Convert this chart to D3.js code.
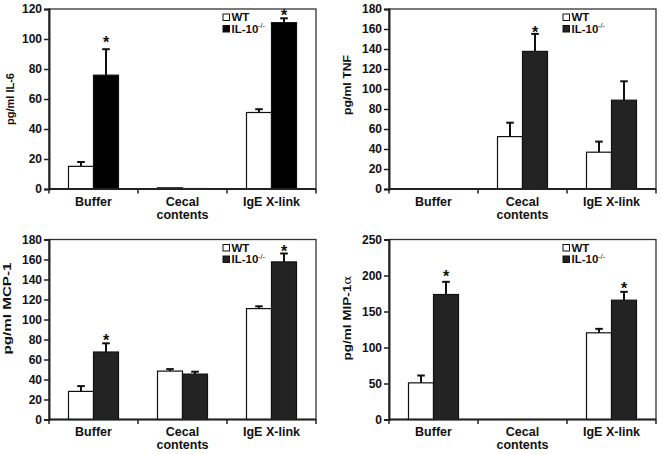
<!DOCTYPE html>
<html><head><meta charset="utf-8">
<script src="https://cdn.jsdelivr.net/npm/d3@7"></script>
<style>
body{margin:0;background:#fff;}
svg text{font-family:"Liberation Sans",Arial,sans-serif;font-weight:bold;fill:#111;}
</style></head>
<body><svg id="c" width="662" height="454"></svg>
<script>
const categories = ["Buffer", "Cecal contents", "IgE X-link"];
const seriesNames = ["WT", "IL-10"];

// Panel 1: IL-6
const il6WT = [15.1, 0.8, 51.0];
const il6WTErr = [18.0, null, 53.2];
const il6KO = [75.9, 0.3, 110.9];
const il6KOErr = [93.2, null, 113.8];
const il6Stars = [100.5, null, 118.2];
const il6Ticks = [0, 20, 40, 60, 80, 100, 120];

// Panel 2: TNF
const tnfWT = [0, 52.4, 36.8];
const tnfWTErr = [null, 66.3, 47.4];
const tnfKO = [0, 137.6, 88.8];
const tnfKOErr = [null, 155.1, 107.7];
const tnfStars = [null, 160.8, null];
const tnfTicks = [0, 20, 40, 60, 80, 100, 120, 140, 160, 180];

// Panel 3: MCP-1
const mcpWT = [28.1, 48.4, 110.9];
const mcpWTErr = [33.4, 50.4, 113.2];
const mcpKO = [67.5, 45.4, 157.6];
const mcpKOErr = [76.2, 47.8, 166.0];
const mcpStars = [83.2, null, 172.0];
const mcpTicks = [0, 20, 40, 60, 80, 100, 120, 140, 160, 180];

// Panel 4: MIP-1alpha
const mipWT = [50.9, 0, 120.4];
const mipWTErr = [61.1, null, 125.9];
const mipKO = [173.6, 0, 165.7];
const mipKOErr = [191.2, null, 177.3];
const mipStars = [203.7, null, 187.5];
const mipTicks = [0, 50, 100, 150, 200, 250];

const panels = [
  {label:"pg/ml IL-6", alpha:false, wt:il6WT, wtErr:il6WTErr, ko:il6KO, koErr:il6KOErr, stars:il6Stars, ticks:il6Ticks, col:0, row:0, koFill:"#000", lblDx:-35, lblDy:0, lblLen:52},
  {label:"pg/ml TNF", alpha:false, wt:tnfWT, wtErr:tnfWTErr, ko:tnfKO, koErr:tnfKOErr, stars:tnfStars, ticks:tnfTicks, col:1, row:0, koFill:"#232323", lblDx:-38, lblDy:-14, lblLen:60},
  {label:"pg/ml MCP-1", alpha:false, wt:mcpWT, wtErr:mcpWTErr, ko:mcpKO, koErr:mcpKOErr, stars:mcpStars, ticks:mcpTicks, col:0, row:1, koFill:"#232323", lblDx:-38.5, lblDy:-21, lblLen:92},
  {label:"pg/ml MIP-1", alpha:true, wt:mipWT, wtErr:mipWTErr, ko:mipKO, koErr:mipKOErr, stars:mipStars, ticks:mipTicks, col:1, row:1, koFill:"#232323", lblDx:-38, lblDy:-11.5, lblLen:85}
];

const svg = d3.select("#c");
const colX = [49, 389], rowY = [9, 239.5];
const W = 267, H = 180;

panels.forEach(p => {
  const g = svg.append("g").attr("transform", `translate(${colX[p.col]},${rowY[p.row]})`);
  const y = d3.scaleLinear().domain([0, d3.max(p.ticks)]).range([H, 0]);
  const x0 = d3.scaleBand().domain(categories).range([0, W]).padding(0);
  const x1 = d3.scaleBand().domain(seriesNames).range([0, x0.bandwidth()]).paddingInner(0).paddingOuter(0.78);

  // frame
  g.append("rect").attr("x", 0).attr("y", 0).attr("width", W).attr("height", H)
    .attr("fill", "none").attr("stroke", "#333").attr("stroke-width", 1.3);

  // bars
  categories.forEach((c, i) => {
    const vals = [{s:"WT", v:p.wt[i], e:p.wtErr[i], fill:"#fff"}, {s:"IL-10", v:p.ko[i], e:p.koErr[i], fill:p.koFill}];
    vals.forEach(d => {
      const bx = x0(c) + x1(d.s);
      const bw = x1.bandwidth();
      if (d.v > 0) {
        g.append("rect").attr("x", bx).attr("y", y(d.v)).attr("width", bw).attr("height", H - y(d.v))
          .attr("fill", d.fill).attr("stroke", "#111").attr("stroke-width", 1.2);
      }
      if (d.e != null) {
        const cx = bx + bw / 2;
        g.append("line").attr("x1", cx).attr("x2", cx).attr("y1", y(d.v)).attr("y2", y(d.e))
          .attr("stroke", "#111").attr("stroke-width", 2);
        g.append("line").attr("x1", cx - 3.8).attr("x2", cx + 3.8).attr("y1", y(d.e)).attr("y2", y(d.e))
          .attr("stroke", "#111").attr("stroke-width", 2);
      }
    });
    if (p.stars[i] != null) {
      const cx = x0(c) + x1("IL-10") + x1.bandwidth() / 2;
      g.append("text").attr("x", cx).attr("y", y(p.stars[i]) + 9.4).attr("text-anchor", "middle")
        .style("font-size", "16px").text("*");
    }
  });

  // y axis
  const ya = g.append("g").call(d3.axisLeft(y).tickValues(p.ticks).tickSize(5).tickPadding(2).tickFormat(d3.format("d")));
  ya.select(".domain").attr("stroke", "#222").attr("stroke-width", 2);
  ya.selectAll(".tick line").attr("stroke", "#222").attr("stroke-width", 1.5);
  ya.selectAll(".tick text").style("font-size", "12px").style("font-family", "'Liberation Sans',Arial,sans-serif").style("font-weight", "bold").attr("fill", "#111");

  // x axis
  const xa = g.append("g").attr("transform", `translate(0,${H})`);
  xa.append("line").attr("x1", 0).attr("x2", W).attr("stroke", "#222").attr("stroke-width", 2);
  const edges = categories.map(c => x0(c)).concat([W]);
  xa.selectAll("line.tk").data(edges).enter().append("line").attr("class", "tk")
    .attr("x1", d => d).attr("x2", d => d).attr("y1", 0).attr("y2", 4.5)
    .attr("stroke", "#222").attr("stroke-width", 1.5);
  categories.forEach(c => {
    const words = c === "Cecal contents" ? ["Cecal", "contents"] : [c];
    words.forEach((w, k) => {
      xa.append("text").attr("text-anchor", "middle").style("font-size", "12.5px")
        .attr("x", x0(c) + x0.bandwidth() / 2).attr("y", 16.8 + k * 13).text(w);
    });
  });

  // y label
  const yl = g.append("text").attr("transform", `translate(${p.lblDx},${H / 2 + p.lblDy}) rotate(-90)`)
    .attr("text-anchor", "middle").style("font-size", "11.5px")
    .attr("textLength", p.lblLen).attr("lengthAdjust", "spacingAndGlyphs");
  yl.append("tspan").text(p.label);
  if (p.alpha) yl.append("tspan").style("font-weight", "normal").style("font-family", "'DejaVu Serif',serif").style("font-size", "11.5px").text("α");

  // legend
  const lx = W - 93;
  const rows = [{name:"WT", fill:"#fff", sup:null, base:12}, {name:"IL-10", fill:p.koFill, sup:"-/-", base:23.5}];
  rows.forEach(r => {
    g.append("rect").attr("x", lx).attr("y", r.base - 7).attr("width", 6.5).attr("height", 6.5)
      .attr("fill", r.fill).attr("stroke", "#111").attr("stroke-width", 1);
    g.append("text").attr("x", lx + 8.5).attr("y", r.base).style("font-size", "11.5px").text(r.name);
    if (r.sup) {
      g.append("text").attr("x", lx + 8.5 + 26.5).attr("y", r.base - 4.5)
        .style("font-size", "7.5px").style("font-weight", "normal").text(r.sup);
    }
  });
});
</script></body></html>
